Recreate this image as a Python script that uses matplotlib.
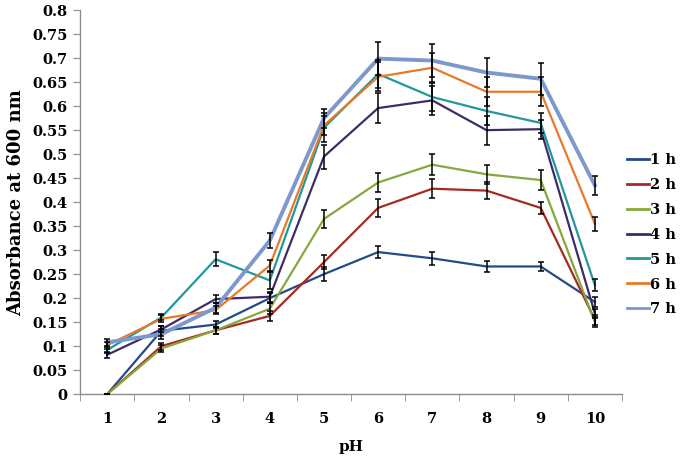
import numpy as np
import matplotlib.pyplot as plt
from matplotlib.ticker import FixedLocator

ph = [1, 2, 3, 4, 5, 6, 7, 8, 9, 10]
labels = ['1 h', '2 h', '3 h', '4 h', '5 h', '6 h', '7 h']
yticks = [0, 0.05, 0.1, 0.15, 0.2, 0.25, 0.3, 0.35, 0.4, 0.45, 0.5, 0.55,
          0.6, 0.65, 0.7, 0.75, 0.8]

h1 = [0.0, 0.132, 0.145, 0.200, 0.250, 0.296, 0.283, 0.266, 0.266, 0.192]
h2 = [0.0, 0.100, 0.133, 0.163, 0.275, 0.388, 0.428, 0.424, 0.388, 0.155]
h3 = [0.0, 0.095, 0.133, 0.178, 0.365, 0.441, 0.478, 0.458, 0.446, 0.150]
h4 = [0.082, 0.135, 0.198, 0.203, 0.495, 0.596, 0.612, 0.550, 0.552, 0.168]
h5 = [0.092, 0.160, 0.281, 0.237, 0.555, 0.667, 0.619, 0.590, 0.565, 0.227]
h6 = [0.102, 0.157, 0.175, 0.268, 0.560, 0.661, 0.680, 0.630, 0.630, 0.355]
h7 = [0.108, 0.125, 0.180, 0.320, 0.575, 0.699, 0.695, 0.670, 0.657, 0.435]

e1 = [0.0, 0.010, 0.008, 0.010, 0.015, 0.012, 0.013, 0.012, 0.010, 0.010]
e2 = [0.0, 0.007, 0.007, 0.010, 0.015, 0.018, 0.020, 0.018, 0.013, 0.010]
e3 = [0.0, 0.007, 0.007, 0.012, 0.018, 0.020, 0.022, 0.020, 0.020, 0.010]
e4 = [0.006, 0.006, 0.008, 0.010, 0.025, 0.032, 0.030, 0.030, 0.020, 0.010]
e5 = [0.007, 0.006, 0.015, 0.018, 0.030, 0.030, 0.030, 0.030, 0.020, 0.012]
e6 = [0.007, 0.007, 0.008, 0.012, 0.020, 0.030, 0.030, 0.030, 0.030, 0.015]
e7 = [0.007, 0.010, 0.010, 0.015, 0.020, 0.034, 0.034, 0.031, 0.033, 0.020]

series = [h1, h2, h3, h4, h5, h6, h7]
errors = [e1, e2, e3, e4, e5, e6, e7]
colors = ['#234b85', '#a52a22', '#86a83c', '#3e2c68', '#22979b', '#e67a2a', '#7d98cd']
widths = [1.6, 1.6, 1.6, 1.6, 1.6, 1.6, 2.8]

plt.rcParams['font.family'] = ['DejaVu Serif']
plt.rcParams['font.weight'] = 'bold'

fig = plt.figure(figsize=(6.85, 4.61), dpi=100)
ax = fig.add_axes([0.117, 0.145, 0.791, 0.833])

for y, c, w, lab in zip(series, colors, widths, labels):
    ax.plot(ph, y, color=c, lw=w, label=lab, zorder=2)
for y, e in zip(series, errors):
    ax.errorbar(ph, y, yerr=e, fmt='none', ecolor='black', elinewidth=1.1,
                capsize=2.5, capthick=1.1, zorder=3)

ax.set_xlim(0.5, 10.5)
ax.set_ylim(0, 0.8)
ax.yaxis.set_major_locator(FixedLocator(yticks))
ax.set_yticklabels([f'{v:g}' for v in yticks])
ax.xaxis.set_major_locator(FixedLocator(ph))
ax.xaxis.set_minor_locator(FixedLocator(np.arange(0.5, 11, 1)))
ax.tick_params(axis='x', which='major', length=0, pad=13, labelsize=10.5)
ax.tick_params(axis='x', which='minor', length=5, color='#8c8c8c', direction='out')
ax.tick_params(axis='y', length=5, color='#8c8c8c', labelsize=10.5, pad=4)

for s in ['top', 'right']:
    ax.spines[s].set_visible(False)
for s in ['left', 'bottom']:
    ax.spines[s].set_color('#8c8c8c')
    ax.spines[s].set_linewidth(1.0)

ax.set_xlabel('pH', fontsize=11, fontweight='bold', labelpad=10)
ax.set_ylabel('Absorbance at 600 nm', fontsize=13, fontweight='bold', labelpad=5)

leg = ax.legend(loc='upper left', bbox_to_anchor=(0.99, 0.655), frameon=False,
                fontsize=10.5, handlelength=1.5, handletextpad=0.1,
                labelspacing=0.75, borderaxespad=0.3)
for line in leg.get_lines():
    line.set_linewidth(2.0)

fig.savefig('out.png', dpi=100)
